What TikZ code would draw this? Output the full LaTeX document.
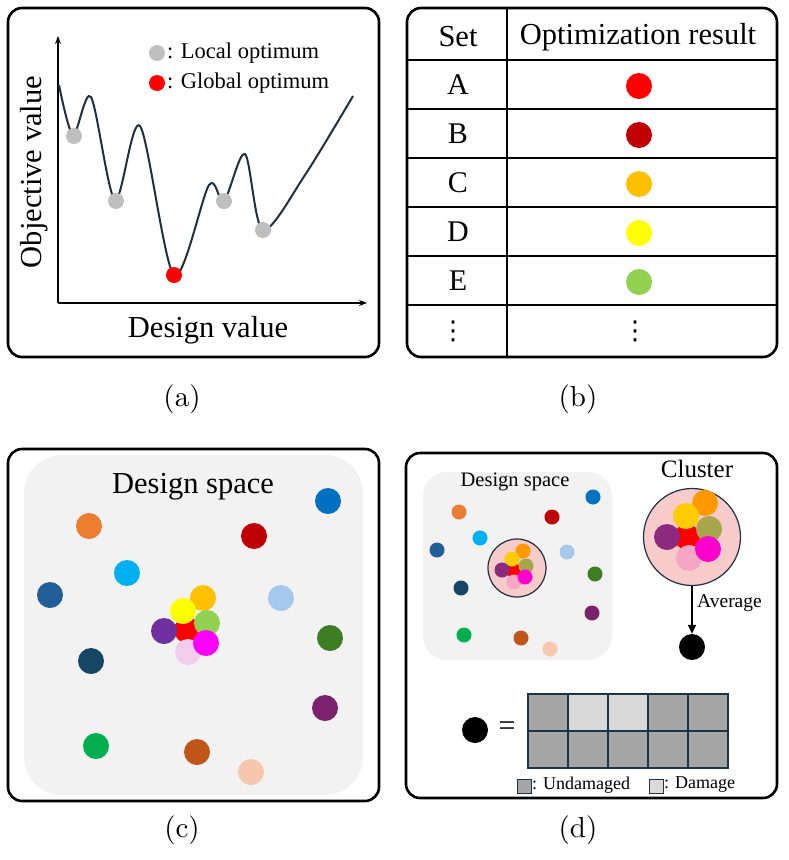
\documentclass[tikz,border=0pt]{standalone}
\usepackage{fontspec}
\newfontfamily\tnr{Liberation Serif}
\newfontfamily\djv{DejaVu Sans}
\usetikzlibrary{arrows.meta}
\definecolor{curvec}{HTML}{1F2F3F}
\definecolor{gridc}{HTML}{1F3347}
\definecolor{dsbg}{HTML}{F2F2F2}
\definecolor{cpink}{HTML}{F8CBCB}
\tikzset{
  panel/.style={draw, line width=2.6pt, rounded corners=14pt},
  pt/.style={circle, inner sep=0pt, minimum size=#1, draw=none},
  lab/.style={font=\tnr\fontsize{#1}{#1}\selectfont, inner sep=0pt},
  vd/.style={font=\djv\fontsize{26}{26}\selectfont, inner sep=0pt},
  captxt/.style={inner sep=0pt},
  cell/.style={draw=gridc, line width=1.3pt},
}
\begin{document}
\begin{tikzpicture}[x=1pt,y=-1pt]
\useasboundingbox (0,0) rectangle (788,860);
% ---------------- (a)
\draw[panel] (8,8) rectangle (379,357);
\coordinate (yo) at (58,303);
\coordinate (yt) at (58,36);
\coordinate (xt) at (367,303);
\draw[line width=1.2pt,-{Stealth[length=8pt,width=6pt]}] (yo) -- (yt);
\draw[line width=1.2pt,-{Stealth[length=8pt,width=6pt]}] (yo) -- (xt);
\draw[curvec, line width=2pt] plot[smooth, tension=0.5] coordinates
 {(59,85) (73,135) (91,97) (115,200) (140,126) (174,275) (209,185) (224,201) (245,154) (263,230) (305,175) (353,96)};
\node[pt=16pt, fill=lightgray] (g1) at (74,136) {};
\node[pt=16pt, fill=lightgray] (g2) at (116,201) {};
\node[pt=16pt, fill=lightgray] (g3) at (224,201) {};
\node[pt=16pt, fill=lightgray] (g4) at (263,230) {};
\node[pt=16pt, fill=red] (gr) at (174,275) {};
\node[pt=16pt, fill=lightgray] (lg1) at (157,53) {};
\node[pt=16pt, fill=red] (lg2) at (157,83) {};
\node[lab=22.5, anchor=west] (lt1) at (167,53) {: Local optimum};
\node[lab=22.5, anchor=west] (lt2) at (167,83) {: Global optimum};
\node[lab=30.5, rotate=90] (ylab) at (34,172) {Objective value};
\node[lab=30.5] (xlab) at (208,330) {Design value};
\node[captxt] (ca) at (182,399) {\scalebox{2.9}{(a)}};
% ---------------- (b)
\draw[panel] (407,8) rectangle (777,357);
\draw[line width=1.2pt] (507,9) -- (507,356);
\foreach \yy in {60,109,158,207,256,305} \draw[line width=1.2pt] (408,\yy) -- (776,\yy);
\node[lab=30.5] (hset) at (458,37) {Set};
\node[lab=30.5] (hres) at (638,37) {Optimization result};
\node[lab=30] (ra) at (458,85) {A};
\node[lab=30] (rb) at (458,134) {B};
\node[lab=30] (rc) at (458,183) {C};
\node[lab=30] (rd) at (458,232) {D};
\node[lab=30] (re) at (458,281) {E};
\node[vd] (rf) at (453,331) {⋮};
\node[vd] (rg) at (635,331) {⋮};
\node[pt=26pt, fill={rgb,255:red,255;green,0;blue,0}] (da) at (639,86) {};
\node[pt=26pt, fill={rgb,255:red,192;green,0;blue,0}] (db) at (639,135) {};
\node[pt=26pt, fill={rgb,255:red,255;green,192;blue,0}] (dc) at (639,184) {};
\node[pt=26pt, fill={rgb,255:red,255;green,255;blue,0}] (dd) at (639,233) {};
\node[pt=26pt, fill={rgb,255:red,146;green,208;blue,80}] (de) at (639,282) {};
\node[captxt] (cb) at (578,399) {\scalebox{2.9}{(b)}};
% ---------------- (c)
\draw[panel] (8,449) rectangle (379,801);
\fill[dsbg, rounded corners=38pt] (24,455) rectangle (363,795);
\node[lab=30.5] (dst) at (193,487) {Design space};
\node[pt=26pt, fill={rgb,255:red,0;green,112;blue,192}] (c1) at (328,501) {};
\node[pt=26pt, fill={rgb,255:red,237;green,125;blue,49}] (c2) at (89,526) {};
\node[pt=26pt, fill={rgb,255:red,192;green,0;blue,0}] (c3) at (254,536) {};
\node[pt=26pt, fill={rgb,255:red,0;green,176;blue,240}] (c4) at (127,573) {};
\node[pt=26pt, fill={rgb,255:red,34;green,94;blue,152}] (c5) at (50,595) {};
\node[pt=26pt, fill={rgb,255:red,165;green,201;blue,236}] (c6) at (281,598) {};
\node[pt=26pt, fill={rgb,255:red,61;green,125;blue,35}] (c7) at (330,638) {};
\node[pt=26pt, fill={rgb,255:red,22;green,70;blue,100}] (c8) at (91,661) {};
\node[pt=26pt, fill={rgb,255:red,122;green,34;blue,110}] (c9) at (325,708) {};
\node[pt=26pt, fill={rgb,255:red,0;green,176;blue,80}] (c10) at (96,746) {};
\node[pt=26pt, fill={rgb,255:red,192;green,85;blue,25}] (c11) at (197,752) {};
\node[pt=26pt, fill={rgb,255:red,246;green,199;blue,172}] (c12) at (251,772) {};
\node[pt=26pt, fill=red] (k1) at (187,630) {};
\node[pt=26pt, fill={rgb,255:red,255;green,192;blue,0}] (k2) at (203,598) {};
\node[pt=26pt, fill={rgb,255:red,146;green,208;blue,80}] (k3) at (207,623) {};
\node[pt=26pt, fill={rgb,255:red,255;green,255;blue,0}] (k4) at (183,611) {};
\node[pt=26pt, fill={rgb,255:red,242;green,206;blue,236}] (k5) at (188,652) {};
\node[pt=26pt, fill={rgb,255:red,112;green,48;blue,160}] (k6) at (164,631) {};
\node[pt=26pt, fill={rgb,255:red,255;green,0;blue,255}] (k7) at (206,643) {};
\node[captxt] (cc) at (182,830) {\scalebox{2.9}{(c)}};
% ---------------- (d)
\draw[panel] (406,453) rectangle (777,798);
\fill[dsbg, rounded corners=24pt] (423,472) rectangle (612,660);
\node[lab=20.5] (dst2) at (515,482) {Design space};
\node[pt=15pt, fill={rgb,255:red,0;green,112;blue,192}] (s1) at (593,497) {};
\node[pt=15pt, fill={rgb,255:red,237;green,125;blue,49}] (s2) at (459,512) {};
\node[pt=15pt, fill={rgb,255:red,192;green,0;blue,0}] (s3) at (552,517) {};
\node[pt=15pt, fill={rgb,255:red,0;green,176;blue,240}] (s4) at (480,538) {};
\node[pt=15pt, fill={rgb,255:red,34;green,94;blue,152}] (s5) at (437,550) {};
\node[pt=15pt, fill={rgb,255:red,165;green,201;blue,236}] (s6) at (567,552) {};
\node[pt=15pt, fill={rgb,255:red,61;green,125;blue,35}] (s7) at (595,574) {};
\node[pt=15pt, fill={rgb,255:red,22;green,70;blue,100}] (s8) at (461,588) {};
\node[pt=15pt, fill={rgb,255:red,122;green,34;blue,110}] (s9) at (592,613) {};
\node[pt=15pt, fill={rgb,255:red,0;green,176;blue,80}] (s10) at (464,635) {};
\node[pt=15pt, fill={rgb,255:red,192;green,85;blue,25}] (s11) at (521,638) {};
\node[pt=15pt, fill={rgb,255:red,246;green,199;blue,172}] (s12) at (550,649) {};
% small cluster
\node[circle, draw=curvec, line width=1.2pt, fill=cpink, minimum size=58pt, inner sep=0pt] (sc) at (517,568) {};
\node[pt=15pt, fill=red] (m1) at (513,570) {};
\node[pt=15pt, fill={rgb,255:red,255;green,153;blue,0}] (m2) at (523,551) {};
\node[pt=15pt, fill={rgb,255:red,166;green,166;blue,76}] (m3) at (526,566) {};
\node[pt=15pt, fill={rgb,255:red,255;green,204;blue,0}] (m4) at (512,559) {};
\node[pt=15pt, fill={rgb,255:red,244;green,166;blue,196}] (m5) at (514,582) {};
\node[pt=15pt, fill={rgb,255:red,139;green,42;blue,127}] (m6) at (502,570) {};
\node[pt=15pt, fill={rgb,255:red,255;green,0;blue,204}] (m7) at (525,577) {};
% big cluster
\node[lab=25] (clt) at (697,469) {Cluster};
\node[circle, draw=curvec, line width=1.2pt, fill=cpink, minimum size=97pt, inner sep=0pt] (bc) at (692,537) {};
\node[pt=26pt, fill=red] (b1) at (687,537) {};
\node[pt=26pt, fill={rgb,255:red,255;green,153;blue,0}] (b2) at (705,503) {};
\node[pt=26pt, fill={rgb,255:red,166;green,166;blue,76}] (b3) at (709,529) {};
\node[pt=26pt, fill={rgb,255:red,255;green,204;blue,0}] (b4) at (686,516) {};
\node[pt=26pt, fill={rgb,255:red,244;green,166;blue,196}] (b5) at (689,558) {};
\node[pt=26pt, fill={rgb,255:red,139;green,42;blue,127}] (b6) at (667,537) {};
\node[pt=26pt, fill={rgb,255:red,255;green,0;blue,204}] (b7) at (708,549) {};
\node[pt=26pt, fill=black] (avg) at (692,647) {};
\draw[line width=1.5pt, -{Triangle[length=9pt,width=8pt]}] (bc.south) -- (avg.north);
\node[lab=19.5, anchor=west] (avt) at (697,603) {Average};
% bottom row
\node[pt=26pt, fill=black] (bd) at (475,730) {};
\node[lab=30] (eq) at (507,729) {=};
\foreach \i in {0,...,4} {
  \foreach \j in {0,1} {
    \pgfmathsetmacro\xa{528+40*\i}
    \pgfmathsetmacro\ya{694+37*\j}
    \filldraw[cell, fill={rgb,255:red,166;green,166;blue,166}] (\xa,\ya) rectangle ++(40,37);
  }
}
\filldraw[cell, fill={rgb,255:red,217;green,217;blue,217}] (568,694) rectangle ++(40,37);
\filldraw[cell, fill={rgb,255:red,217;green,217;blue,217}] (608,694) rectangle ++(40,37);
\node[draw=gridc, line width=1pt, fill={rgb,255:red,166;green,166;blue,166}, minimum size=14pt, inner sep=0pt] (lu) at (524,786) {};
\node[lab=18, anchor=west] (lut) at (532,785) {: Undamaged};
\node[draw=gridc, line width=1pt, fill={rgb,255:red,217;green,217;blue,217}, minimum size=14pt, inner sep=0pt] (ld) at (656,786) {};
\node[lab=18, anchor=west] (ldt) at (664,785) {: Damage};
\node[captxt] (cd) at (578,830) {\scalebox{2.9}{(d)}};
\end{tikzpicture}
\end{document}
